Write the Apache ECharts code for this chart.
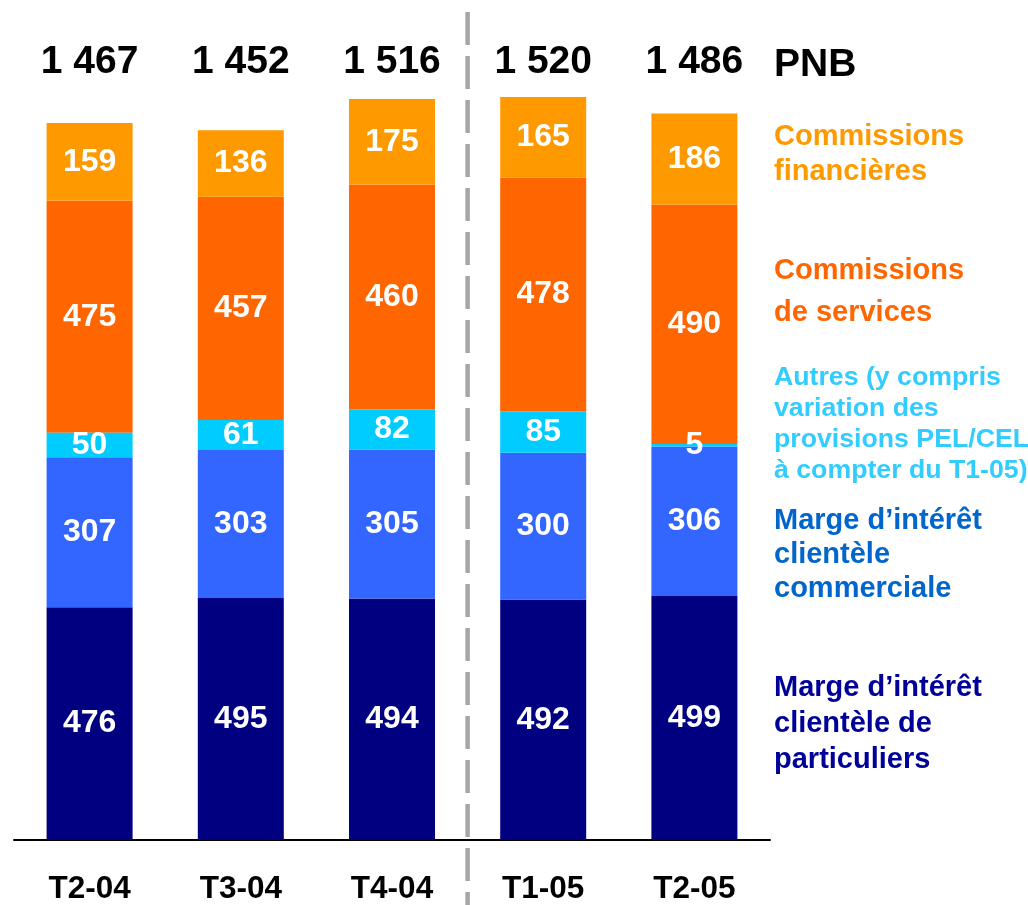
<!DOCTYPE html>
<html>
<head>
<meta charset="utf-8">
<script src="https://cdn.jsdelivr.net/npm/echarts@6/dist/echarts.min.js"></script>
<style>
html,body{margin:0;padding:0;background:#fff;}
#main{width:1028px;height:905px;}
</style>
</head>
<body>
<div id="main"></div>
<script>
// trimestres
var categories = ['T2-04', 'T3-04', 'T4-04', 'T1-05', 'T2-05'];
// composantes du PNB (bas -> haut)
var particuliers = [476, 495, 494, 492, 499];
var commerciale = [307, 303, 305, 300, 306];
var autres = [50, 61, 82, 85, 5];
var services = [475, 457, 460, 478, 490];
var financieres = [159, 136, 175, 165, 186];
// PNB total affiché en haut
var totals = [1467, 1452, 1516, 1520, 1486];

var FONT = '"Liberation Sans", Arial, sans-serif';

function fmt(v){
	// séparateur de milliers avec espace
	return String(v).replace(/\B(?=(\d{3})+(?!\d))/g, ' ');
}

function barSerie(name, data, color, z){
	return {
		name: name,
		type: 'bar',
		stack: 'pnb',
		barWidth: 86,
		z: z || 2,
		data: data,
		itemStyle: {color: color},
		label: {
			show: true,
			position: 'inside',
			color: '#fff',
			fontFamily: FONT,
			fontWeight: 'bold',
			fontSize: 32
		}
	};
}

var myChart = echarts.init(document.getElementById('main'));

var option = {
	animation: false,
	backgroundColor: '#fff',
	grid: {left: 14, width: 756, top: 9, bottom: 64},
	xAxis: [
		{
			type: 'category',
			data: categories,
			axisLine: {lineStyle: {color: '#000', width: 2}},
			axisTick: {show: false},
			axisLabel: {
				color: '#000', fontFamily: FONT, fontWeight: 'bold', fontSize: 31.5, margin: 33
			}
		},
		{
			// totaux PNB sur un axe du haut
			type: 'category',
			position: 'top',
			data: totals.map(fmt),
			offset: -73,
			axisLine: {show: false},
			axisTick: {show: false},
			axisLabel: {
				color: '#000', fontFamily: FONT, fontWeight: 'bold', fontSize: 39, margin: 0
			}
		}
	],
	yAxis: {
		type: 'value',
		min: 0,
		max: 1700,
		show: false,
		splitLine: {show: false}
	},
	series: [
		barSerie('Marge d\u2019intérêt clientèle de particuliers', particuliers, '#000080'),
		barSerie('Marge d\u2019intérêt clientèle commerciale', commerciale, '#3366FF'),
		barSerie('Autres', autres, '#00CCFF', 3),
		barSerie('Commissions de services', services, '#FF6600'),
		barSerie('Commissions financières', financieres, '#FF9900')
	]
};
myChart.setOption(option);

// ligne pointillée entre T4-04 et T1-05 + légende texte à droite
var x1 = myChart.convertToPixel({xAxisIndex: 0}, categories[2]);
var x2 = myChart.convertToPixel({xAxisIndex: 0}, categories[3]);
var sepX = (x1 + x2) / 2;

function legendText(txt, color, top, size, lh){
	return {
		type: 'text',
		left: 774,
		top: top,
		z: 10,
		style: {
			text: txt,
			fill: color,
			font: 'bold ' + size + 'px ' + FONT,
			lineHeight: lh
		}
	};
}

myChart.setOption({
	graphic: [
		{
			type: 'line',
			z: 0,
			shape: {x1: sepX, y1: 12, x2: sepX, y2: 905},
			style: {stroke: '#A6A6A6', lineWidth: 4.5, lineDash: [33, 11]}
		},
		legendText('PNB', '#000', 46, 39, 39),
		legendText('Commissions\nfinancières', '#FF9900', 119, 29, 35),
		legendText('Commissions\nde services', '#FF6600', 250, 29, 42),
		legendText('Autres (y compris\nvariation des\nprovisions PEL/CEL\nà compter du T1-05)', '#33CCFF', 362, 26.7, 31),
		legendText('Marge d\u2019intérêt\nclientèle\ncommerciale', '#0066CC', 504, 29, 34),
		legendText('Marge d\u2019intérêt\nclientèle de\nparticuliers', '#000099', 670, 29, 36)
	]
});
</script>
</body>
</html>
